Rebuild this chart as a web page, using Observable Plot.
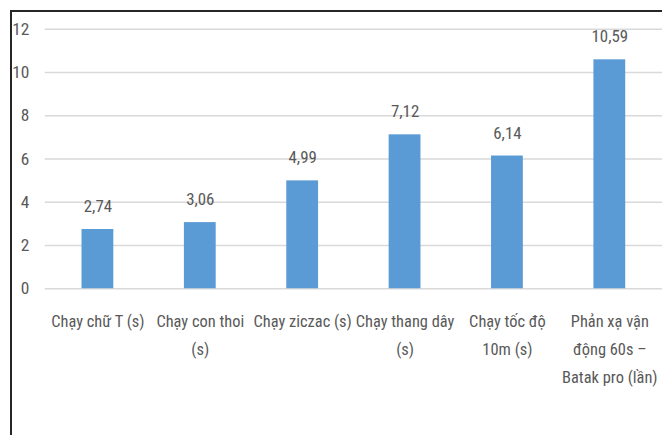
<!DOCTYPE html>
<html>
<head>
<meta charset="utf-8">
<script src="https://cdn.jsdelivr.net/npm/d3@7"></script>
<script src="https://cdn.jsdelivr.net/npm/@observablehq/plot@0.6"></script>
<style>
  html, body { margin: 0; padding: 0; background: #fff; }
  #wrap { position: relative; width: 662px; height: 435px; overflow: hidden; background: #fff; }
  #border { position: absolute; left: 10px; top: 10px; width: 700px; height: 500px; border-left: 2px solid #262626; border-top: 2px solid #262626; box-sizing: border-box; pointer-events: none; }
  #chart { position: absolute; left: 0; top: 0; }
</style>
</head>
<body>
<div id="wrap">
  <div id="chart"></div>
  <div id="border"></div>
</div>
<script>
const categories = [
  "Chạy chữ T (s)",
  "Chạy con thoi\n(s)",
  "Chạy ziczac (s)",
  "Chạy thang dây\n(s)",
  "Chạy tốc độ\n10m (s)",
  "Phản xạ vận\nđộng 60s –\nBatak pro (lần)"
];
const values = [2.74, 3.06, 4.99, 7.12, 6.14, 10.59];
const yTicks = [0, 2, 4, 6, 8, 10, 12];

const data = categories.map((c, i) => ({category: c, value: values[i]}));
const FONT = '"Roboto Condensed", "DejaVu Sans Condensed", "Liberation Sans", sans-serif';
const fmt = v => v.toFixed(2).replace(".", ",");

const chart = Plot.plot({
  width: 666,
  height: 435,
  marginLeft: 45,
  marginRight: 0,
  marginTop: 29,
  marginBottom: 145,
  style: {fontFamily: FONT, fontSize: "17px", color: "#595959", background: "transparent", overflow: "visible"},
  x: {domain: categories, paddingInner: 0.69, paddingOuter: 0.345, align: 0.5},
  y: {domain: [0, 12], ticks: yTicks},
  marks: [
    Plot.gridY(yTicks, {stroke: "#d9d9d9", strokeOpacity: 1, strokeWidth: 1.5}),
    Plot.axisY(yTicks, {tickSize: 0, tickPadding: 16, fontSize: 17.5, fill: "#595959", label: null}),
    Plot.axisX({tickSize: 0, tickPadding: 19, fontSize: 16.5, fill: "#595959", label: null, lineHeight: 1.7}),
    Plot.barY(data, {x: "category", y: "value", fill: "#5b9bd5"}),
    Plot.text(data, {x: "category", y: "value", text: d => fmt(d.value), dy: -23, fontSize: 17, fill: "#595959"})
  ]
});
document.getElementById("chart").appendChild(chart);
</script>
</body>
</html>
